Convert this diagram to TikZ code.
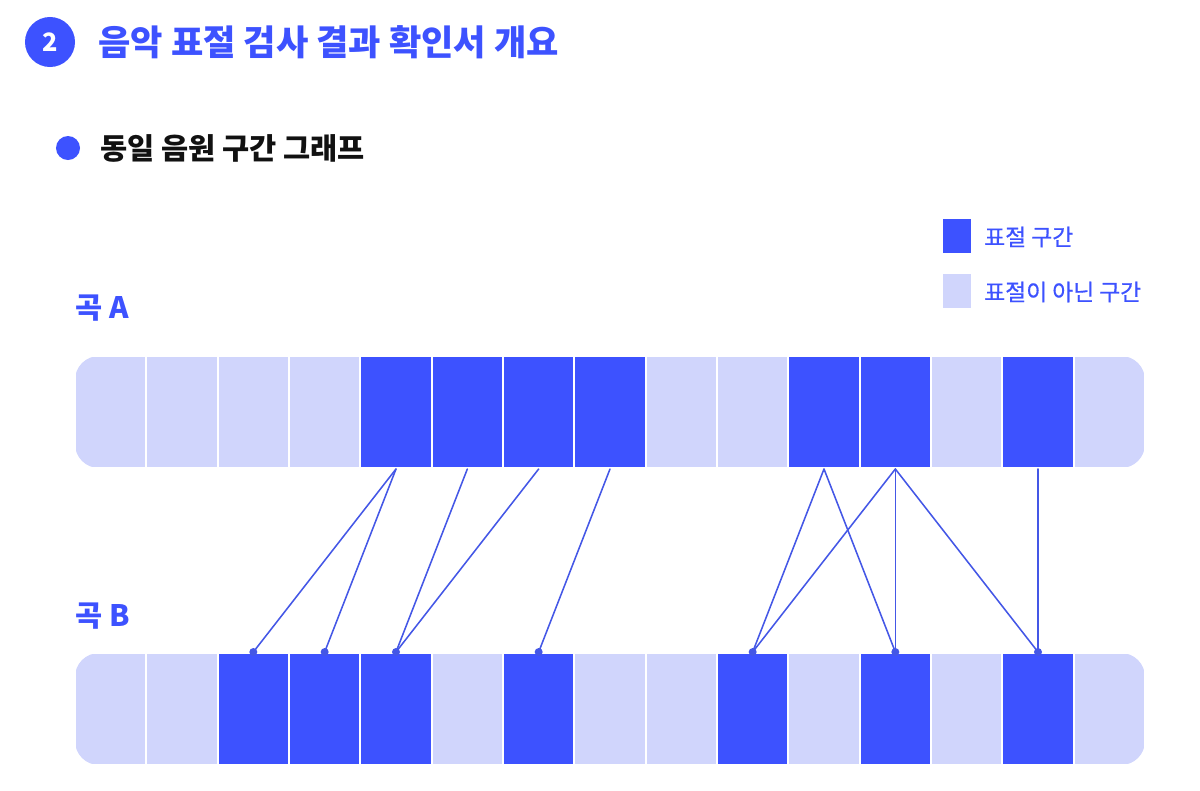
\documentclass[tikz,border=0pt]{standalone}
\usepackage{fontspec}
\setmainfont{Noto Sans CJK KR}
\newfontfamily\medfont{Noto Sans CJK KR}[FakeBold=0.6]
\definecolor{plagblue}{HTML}{3D52FF}
\definecolor{plaglight}{HTML}{D0D5FC}
\definecolor{linkblue}{HTML}{4457E6}
\definecolor{inkblack}{HTML}{111111}
\tikzset{
  seg/.style={rectangle, minimum width=1.7833cm, minimum height=2.8cm, inner sep=0pt, draw=white, line width=1.4pt},
  segd/.style={fill=plagblue},
  segl/.style={fill=plaglight},
  sege/.style={},
  link/.style={draw=linkblue, line width=1.1pt},
  songlabel/.style={anchor=west, inner sep=0pt, text=plagblue, font=\bfseries\fontsize{21}{24}\selectfont},
  legbox/.style={rectangle, minimum width=0.7cm, minimum height=0.85cm, inner sep=0pt},
  legtext/.style={anchor=west, inner sep=0pt, text=plagblue, font=\medfont\fontsize{16.2}{19}\selectfont},
}
\begin{document}
\begin{tikzpicture}[x=0.025cm, y=-0.025cm, line join=round, line cap=round]
  \useasboundingbox (0,0) rectangle (1200,790);
  % heading
  \node[circle, fill=plagblue, minimum size=1.25cm, inner sep=0pt, text=white, font=\bfseries\fontsize{18}{20}\selectfont] (num) at (50,42) {2};
  \node[anchor=west, inner sep=0pt, text=plagblue, font=\bfseries\fontsize{25}{29}\selectfont] (title) at (98,42) {음악 표절 검사 결과 확인서 개요};
  \node[circle, fill=plagblue, minimum size=0.6cm, inner sep=0pt] (bullet) at (68,148) {};
  \node[anchor=west, inner sep=0pt, text=inkblack, font=\bfseries\fontsize{21}{24}\selectfont] (subtitle) at (100,148) {동일 음원 구간 그래프};
  % legend
  \node[legbox, fill=plagblue] (legd) at (957,236) {};
  \node[legtext] at (984,237) {표절 구간};
  \node[legbox, fill=plaglight] (legl) at (957,291) {};
  \node[legtext] at (984,292) {표절이 아닌 구간};
  % songs
  \node[songlabel] (songA) at (75,308) {곡 A};
  \node[songlabel] (songB) at (75,616) {곡 B};
  \fill[plaglight, rounded corners=0.6cm] (75,356) rectangle (1145,468);
  \fill[plaglight, rounded corners=0.6cm] (75,653) rectangle (1145,765);
  \foreach \s [count=\i from 0] in {sege,segl,segl,segl,segd,segd,segd,segd,segl,segl,segd,segd,segl,segd,sege}
    \node[seg, \s] (a\i) at ({75+(\i+0.5)*71.333},412) {};
  \foreach \s [count=\i from 0] in {sege,segl,segd,segd,segd,segl,segd,segl,segl,segd,segl,segd,segl,segd,sege}
    \node[seg, \s] (b\i) at ({75+(\i+0.5)*71.333},709) {};
  % matches
  \foreach \u/\v in {a4/b2,a4/b3,a5/b4,a6/b4,a7/b6,a10/b9,a10/b11,a11/b9,a11/b11,a11/b13,a13/b13}
    \draw[link] (\u.south) -- (\v.north);
  \foreach \v in {b2,b3,b4,b6,b9,b11,b13}
    \fill[linkblue] (\v.north) circle (0.1cm);
\end{tikzpicture}
\end{document}
